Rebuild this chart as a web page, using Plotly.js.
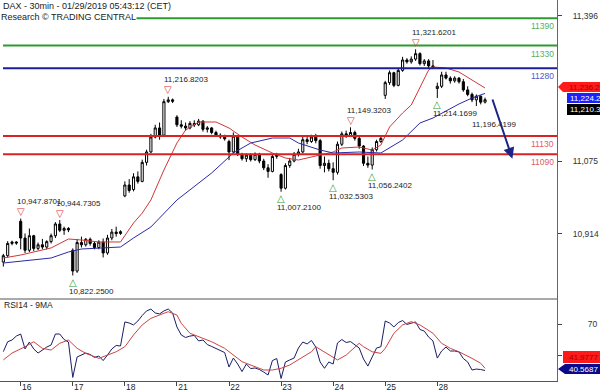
<!DOCTYPE html>
<html><head><meta charset="utf-8">
<script src="https://cdn.plot.ly/plotly-3.0.1.min.js"></script>
<style>html,body{margin:0;padding:0;background:#fff;}#chart{width:600px;height:392px;}</style>
</head><body><div id="chart"></div>
<script>
// ---------- DATA ----------
const dayLabels = ['16','17','18','21','22','23','24','25','28'];
const dayStartBar = [0,12,24,36,48,60,72,84,96];
const firstBar = -4;

const open = [10852,10866,10893,10896,
 10942,10905,10878,10910,10882,10890,10885,10897,10910,10936,10922,10926,
 10878,10832,10895,10890,10902,10893,10884,10896,10872,10905,10918,10915,
 10998,11022,11012,11040,11030,11072,11095,11128,11148,11132,11206,11210,
 11172,11155,11152,11148,11158,11155,11163,11145,11148,11138,11132,11128,
 11118,11095,11130,11090,11080,11088,11078,11090,11075,11060,11052,11085,
 11045,11015,11065,11075,11090,11095,11122,11118,11128,11120,11065,11070,
 11058,11050,11112,11135,11130,11138,11125,11108,11070,11066,11100,11118,
 11220,11248,11270,11242,11275,11298,11294,11300,11312,11290,11296,11285,
 11235,11240,11265,11258,11252,11258,11250,11232,11222,11210,11218,11205];
const high = [10870,10898,10899,10898,
 10947.87,10915,10926,10912,10895,10903,10900,10915,10940,10944.73,10930,10929,
 10882,10903,10908,10905,10906,10898,10900,10904,10912,10925,10930,10922,
 11030,11035,11048,11052,11078,11100,11135,11155,11160,11212,11216.82,11213,
 11176,11165,11160,11163,11165,11168,11165,11152,11150,11142,11136,11133,
 11122,11138,11132,11093,11092,11092,11094,11093,11080,11068,11090,11093,
 11048,11070,11082,11095,11102,11128,11130,11133,11135,11124,11085,11078,
 11072,11118,11140,11142,11149.32,11142,11130,11110,11085,11105,11122,11130,
 11252,11275,11272,11280,11305,11302,11306,11321.62,11315,11300,11300,11298,
 11248,11272,11272,11262,11262,11260,11256,11240,11226,11222,11220,11215];
const low = [10842,10862,10889,10890,
 10880,10872,10874,10876,10878,10880,10880,10893,10905,10918,10912,10918,
 10822.25,10828,10884,10886,10888,10880,10880,10862,10868,10900,10908,10912,
 10995,11005,11008,11025,11028,11065,11092,11125,11122,11128,11203,11203,
 11150,11147,11142,11145,11150,11152,11140,11138,11134,11128,11124,11120,
 11077,11092,11086,11076,11073,11074,11075,11070,11055,11038,11050,11080,
 11007.21,11012,11060,11072,11085,11092,11112,11115,11114,11058,11050,11052,
 11032.53,11045,11108,11126,11128,11120,11102,11064,11060,11056.24,11096,11115,
 11212,11243,11238,11240,11272,11290,11290,11296,11286,11285,11280,11278,
 11214.17,11236,11255,11246,11248,11246,11228,11218,11205,11196.42,11200,11202];
const close = [10866,10893,10896,10894,
 10905,10878,10910,10882,10890,10885,10897,10910,10936,10922,10926,10923,
 10832,10895,10890,10902,10893,10884,10896,10872,10905,10918,10915,10919,
 11022,11010,11040,11030,11072,11095,11128,11148,11130,11206,11210,11207,
 11155,11152,11148,11158,11155,11163,11145,11148,11138,11132,11128,11124,
 11095,11130,11090,11080,11088,11078,11090,11075,11060,11052,11085,11088,
 11015,11065,11075,11090,11095,11122,11118,11128,11120,11065,11070,11058,
 11050,11112,11135,11130,11138,11125,11108,11070,11066,11100,11118,11125,
 11248,11270,11242,11275,11298,11294,11300,11312,11290,11296,11285,11282,
 11240,11265,11258,11252,11258,11250,11232,11222,11210,11218,11205,11210.3];

// moving averages on price
const maFastBar = [-4,0,7,11,14,18,23,26,28,30,33,36,38,41,45,48,51,54,58,61,64,69,72,74,78,81,83,85,88,90,92,94,95,98,101,104,107];
const maFastVal = [10860.8,10867.4,10883.0,10902.8,10900.6,10896.2,10896.2,10938.1,10960.0,10988.9,11055.1,11114.7,11143.4,11161.1,11161.1,11147.9,11128.0,11110.3,11092.7,11081.6,11077.2,11088.2,11094.9,11103.7,11105.9,11099.3,11110.3,11150.1,11181.0,11198.6,11238.4,11275.9,11282.6,11280.3,11271.5,11253.8,11236.2];
const maSlowBar = [-4,7,11,14,23,26,30,36,44,49,53,58,62,64,69,72,78,83,88,92,95,101,104,107];
const maSlowVal = [10849.8,10860.8,10874.1,10880.7,10885.1,10905.0,10929.3,10988.9,11048.5,11092.7,11114.7,11125.8,11125.8,11114.7,11099.3,11092.7,11094.9,11092.7,11121.4,11158.9,11169.9,11200.9,11214.1,11224.2];

// RSI(14), one value per bar
const rsi = [52.6,58.9,60.0,62.5,
 63.8,54.3,58.7,54.3,51.7,53.6,55.5,56.8,63.8,63.8,60.3,58.7,
 36.2,49.2,50.4,51.7,50.8,48.9,49.8,46.9,50.4,54.3,56.5,56.2,
 71.5,70.8,69.6,72.1,75.6,78.5,79.7,77.2,76.6,78.5,79.7,77.2,
 68.3,63.2,61.6,62.5,62.9,59.4,60.0,57.1,55.9,54.6,53.0,52.0,
 42.8,48.5,44.7,39.9,44.7,41.8,42.2,41.2,39.6,37.7,46.9,48.2,
 35.5,46.0,47.3,48.5,54.9,58.7,57.5,59.7,55.5,46.0,42.0,46.0,
 44.7,58.1,60.3,58.4,59.0,57.1,54.9,47.9,43.4,49.2,54.9,55.7,
 72.1,70.8,68.3,71.1,72.4,69.9,70.8,71.5,66.7,65.7,61.9,59.4,
 48.5,53.0,55.5,53.0,53.0,52.4,48.2,46.0,40.9,41.5,41.2,40.5687];
// 9-period MA of RSI
const rsiMaBar = [-4,-2,1,3,5,7,9,11,13,15,18,20,22,24,26,28,30,33,34,36,37,39,42,44,47,49,51,54,56,58,60,62,64,67,68,70,72,73,75,78,79,81,83,84,86,88,90,92,95,97,99,101,104,106,107];
const rsiMaVal = [47.3,51.7,55.7,58.9,54.7,53.6,57.9,60.0,54.7,51.5,48.3,50.4,52.5,55.7,63.2,69.6,73.8,77.0,78.0,75.9,70.6,64.3,61.1,58.9,54.7,50.4,46.2,43.0,40.9,40.9,42.0,44.1,47.3,52.5,55.7,52.5,49.4,47.3,50.4,57.9,55.7,52.5,51.5,54.7,64.3,69.6,71.7,69.6,64.3,57.9,54.7,52.5,48.3,45.2,41.9777];

// support / resistance levels
const levels = [11390,11330,11280,11130,11090];
const levelLineColors = ['#2f9a2f','#2f9a2f','#1e1e9a','#d92222','#d92222'];
const levelTextColors = ['#5aad5a','#5aad5a','#5555c4','#e06060','#e06060'];

// pivot points
const pivotHighBar = [0,9,34,76,91];
const pivotHighVal = [10947.8701,10944.7305,11216.8203,11149.3203,11321.6201];
const pivotLowBar = [12,60,72,81,96];
const pivotLowVal = [10822.2500,11007.2100,11032.5303,11056.2402,11214.1699];
const extraLowBar = [105];
const extraLowVal = [11196.4199];

// forecast arrow (bar, price)
const arrowBar = [108.6, 113.3];
const arrowPrice = [11214, 11080];

// axis ticks
const priceTicks = [10914, 11075, 11396];
const rsiTicks = [50, 70];
const rsiTickText = ['', '70'];

// ---------- LAYOUT HELPERS ----------
const W = 600, H = 392, ML = 0, MR = 43, MT = 0, MB = 11;
const plotW = W - ML - MR, plotH = H - MT - MB;
const px = x => (x - ML) / plotW;
const py = y => 1 - (y - MT) / plotH;
const split = py(299);
const FONT = 'Liberation Sans, Arial, sans-serif';
const bars = open.map((_, k) => firstBar + k);
const fmt = (v, d) => v.toLocaleString('en-US', {minimumFractionDigits: d, maximumFractionDigits: d});
const pathPx = pts => pts.map((p, k) => (k ? 'L' : 'M') + px(p[0]) + ',' + py(p[1])).join(' ') + ' Z';

const traces = [
  {type: 'candlestick', x: bars, open, high, low, close, xaxis: 'x', yaxis: 'y',
   increasing: {line: {color: '#000', width: 1}, fillcolor: '#fff'},
   decreasing: {line: {color: '#000', width: 1}, fillcolor: '#000'},
   whiskerwidth: 0, hoverinfo: 'skip'},
  {type: 'scatter', mode: 'lines', x: maFastBar, y: maFastVal, xaxis: 'x', yaxis: 'y',
   line: {color: '#d03838', width: 1}, hoverinfo: 'skip'},
  {type: 'scatter', mode: 'lines', x: maSlowBar, y: maSlowVal, xaxis: 'x', yaxis: 'y',
   line: {color: '#2a2aa6', width: 1}, hoverinfo: 'skip'},
  {type: 'scatter', mode: 'lines', x: bars, y: rsi, xaxis: 'x', yaxis: 'y2',
   line: {color: '#1c1c66', width: 1}, hoverinfo: 'skip'},
  {type: 'scatter', mode: 'lines', x: rsiMaBar, y: rsiMaVal, xaxis: 'x', yaxis: 'y2',
   line: {color: '#cc4444', width: 1}, hoverinfo: 'skip'}
];

const shapes = [];
const annotations = [];

// panel separator
shapes.push({type: 'line', xref: 'paper', yref: 'paper', x0: 0, x1: 1, y0: split, y1: split,
  line: {color: '#555', width: 1}});

levels.forEach((lv, k) => {
  shapes.push({type: 'line', xref: 'paper', yref: 'y', x0: px(3), x1: 1, y0: lv, y1: lv,
    line: {color: levelLineColors[k], width: 2}});
  annotations.push({xref: 'paper', yref: 'y', x: 1, y: lv, xanchor: 'right', yanchor: 'top',
    yshift: -1, xshift: -1, text: String(lv), showarrow: false,
    font: {family: FONT, size: 8.5, color: levelTextColors[k]}});
});

// titles
annotations.push({xref: 'paper', yref: 'paper', x: px(1), y: py(6), xanchor: 'left', yanchor: 'middle',
  text: 'DAX - 30min - 01/29/2019 05:43:12 (CET)', showarrow: false,
  font: {family: FONT, size: 9, color: '#222'}});
annotations.push({xref: 'paper', yref: 'paper', x: px(0), y: py(17.5), xanchor: 'left', yanchor: 'middle',
  text: 'Research © TRADING CENTRAL', showarrow: false, bgcolor: '#fff', borderpad: 0,
  font: {family: FONT, size: 9, color: '#222'}});
annotations.push({xref: 'paper', yref: 'paper', x: px(2), y: py(305), xanchor: 'left', yanchor: 'middle',
  text: 'RSI14 - 9MA', showarrow: false, font: {family: FONT, size: 8.5, color: '#222'}});

// pivots
pivotHighBar.forEach((b, k) => {
  annotations.push({x: b, y: pivotHighVal[k], xref: 'x', yref: 'y', text: '▽', showarrow: false,
    yanchor: 'middle', yshift: 7, font: {family: 'DejaVu Sans', size: 10, color: '#e03030'}});
  annotations.push({x: b, y: pivotHighVal[k], xref: 'x', yref: 'y', text: fmt(pivotHighVal[k], 4),
    showarrow: false, xanchor: 'left', xshift: -6, yanchor: 'middle', yshift: 17,
    font: {family: FONT, size: 8, color: '#222'}});
});
pivotLowBar.forEach((b, k) => {
  annotations.push({x: b, y: pivotLowVal[k], xref: 'x', yref: 'y', text: '△', showarrow: false,
    yanchor: 'middle', yshift: -7, font: {family: 'DejaVu Sans', size: 10, color: '#38a038'}});
  annotations.push({x: b, y: pivotLowVal[k], xref: 'x', yref: 'y', text: fmt(pivotLowVal[k], 4),
    showarrow: false, xanchor: 'left', xshift: -6, yanchor: 'middle', yshift: -16,
    font: {family: FONT, size: 8, color: '#222'}});
});
extraLowBar.forEach((b, k) => {
  annotations.push({x: b, y: extraLowVal[k], xref: 'x', yref: 'y', text: fmt(extraLowVal[k], 4),
    showarrow: false, xanchor: 'left', xshift: -6, yanchor: 'middle', yshift: -18,
    font: {family: FONT, size: 8, color: '#222'}});
});

// forecast arrow
annotations.push({x: arrowBar[1], y: arrowPrice[1], ax: arrowBar[0], ay: arrowPrice[0],
  xref: 'x', yref: 'y', axref: 'x', ayref: 'y', text: '', showarrow: true,
  arrowhead: 2, arrowsize: 1.1, arrowwidth: 2, arrowcolor: '#1b2585'});

// right-hand value boxes
const lastFast = maFastVal[maFastVal.length - 1];
const lastSlow = maSlowVal[maSlowVal.length - 1];
const lastClose = close[close.length - 1];
const lastRsiMa = rsiMaVal[rsiMaVal.length - 1];
const lastRsi = rsi[rsi.length - 1];
const boxes = [
  {pts: [[558,87],[563,82],[600,82],[600,92],[563,92]], fill: '#ff1a1a', tx: 567, ty: 87, text: fmt(lastFast, 1), color: '#a00000'},
  {pts: [[567,93],[600,93],[600,103],[567,103]], fill: '#1e1eff', tx: 568, ty: 98, text: fmt(lastSlow, 1), color: '#fff'},
  {pts: [[567,104],[600,104],[600,115],[567,115]], fill: '#000', tx: 568, ty: 109.5, text: fmt(lastClose, 1), color: '#fff'},
  {pts: [[563,351],[600,351],[600,363],[563,363]], fill: '#ff1a1a', tx: 567, ty: 357, text: lastRsiMa.toFixed(4), color: '#a00000'},
  {pts: [[558,369],[565,364],[600,364],[600,374],[565,374]], fill: '#0a0a8a', tx: 567, ty: 369, text: lastRsi.toFixed(4), color: '#fff'}
];
boxes.forEach(b => {
  shapes.push({type: 'path', xref: 'paper', yref: 'paper', path: pathPx(b.pts),
    fillcolor: b.fill, line: {width: 0}, layer: 'above'});
  annotations.push({xref: 'paper', yref: 'paper', x: px(b.tx), y: py(b.ty), xanchor: 'left', yanchor: 'middle',
    text: b.text, showarrow: false, font: {family: FONT, size: 8, color: b.color}});
});

const layout = {
  width: W, height: H,
  margin: {l: ML, r: MR, t: MT, b: MB, pad: 0},
  paper_bgcolor: '#fff', plot_bgcolor: '#fff',
  showlegend: false, hovermode: false,
  xaxis: {domain: [0, 1], anchor: 'y2', range: [(0 - 20.7) / 4.3396, (557 - 20.7) / 4.3396],
    rangeslider: {visible: false}, showgrid: false, zeroline: false,
    tickmode: 'array', tickvals: dayStartBar, ticktext: dayLabels,
    ticks: 'outside', ticklen: 4, tickcolor: '#444', tickwidth: 1,
    showline: true, linecolor: '#555', linewidth: 1,
    ticklabelshift: 6, ticklabelstandoff: -6,
    tickfont: {family: FONT, size: 8.5, color: '#222'}},
  yaxis: {domain: [split, 1], anchor: 'x', side: 'right', range: [10770.3, 11430.5],
    showgrid: false, zeroline: false, tickmode: 'array', tickvals: priceTicks,
    ticktext: priceTicks.map(v => fmt(v, 0)),
    ticks: 'outside', ticklen: 4, tickcolor: '#444', showline: true, linecolor: '#666', linewidth: 1,
    ticklabelstandoff: 9, tickfont: {family: FONT, size: 8.5, color: '#333'}},
  yaxis2: {domain: [0, split], anchor: 'x', side: 'right', range: [33.9, 86.1],
    showgrid: false, zeroline: false, tickmode: 'array', tickvals: rsiTicks, ticktext: rsiTickText,
    ticks: 'outside', ticklen: 4, tickcolor: '#444', showline: true, linecolor: '#666', linewidth: 1,
    ticklabelstandoff: 24, tickfont: {family: FONT, size: 8.5, color: '#333'}},
  shapes, annotations
};

Plotly.newPlot('chart', traces, layout, {staticPlot: true, displayModeBar: false});
</script></body></html>
